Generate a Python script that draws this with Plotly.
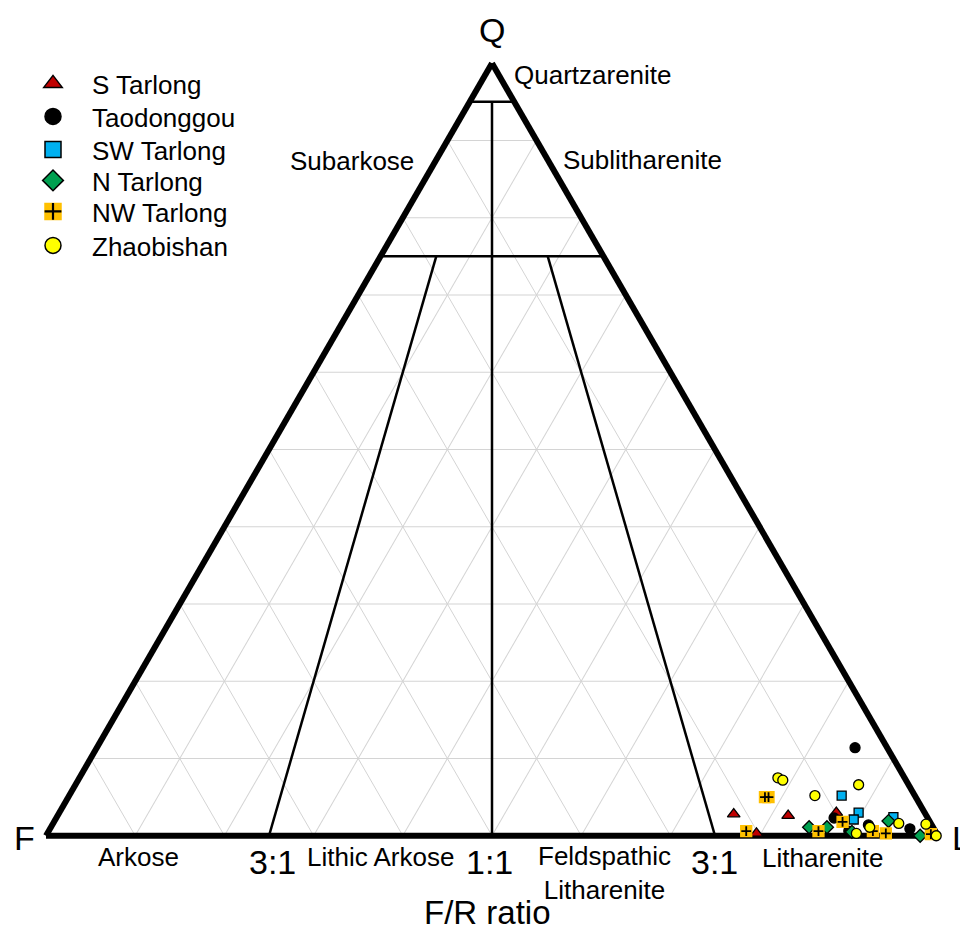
import plotly.graph_objects as go

# Framework composition of sandstones, in percent (Q = quartz, F = feldspar, L = lithics)
groups = ["S Tarlong", "Taodonggou", "SW Tarlong", "N Tarlong", "NW Tarlong", "Zhaobishan"]

s_tarlong_q = [2.8, 2.6, 0.3, 3.0]
s_tarlong_f = [21.5, 15.5, 20.2, 9.9]
s_tarlong_l = [75.7, 81.9, 79.5, 87.1]

taodonggou_q = [11.4, 2.3, 0.6, 1.4, 0.9]
taodonggou_f = [3.6, 10.5, 9.7, 7.1, 2.7]
taodonggou_l = [85.0, 87.2, 89.7, 91.5, 96.4]

sw_tarlong_q = [5.2, 3.0, 2.1, 2.4]
sw_tarlong_f = [8.2, 7.4, 8.4, 3.8]
sw_tarlong_l = [86.6, 89.6, 89.5, 93.8]

n_tarlong_q = [1.1, 1.1, 0.5, 1.9, 0.0]
n_tarlong_f = [13.9, 11.9, 9.4, 4.6, 2.0]
n_tarlong_l = [85.0, 87.0, 90.1, 93.5, 98.0]

nw_tarlong_q = [5.0, 5.0, 0.6, 0.6, 1.8, 0.6, 0.3, 0.2]
nw_tarlong_f = [16.9, 16.5, 21.2, 13.1, 9.8, 7.0, 5.7, 0.7]
nw_tarlong_l = [78.1, 78.5, 78.2, 86.3, 88.4, 92.4, 94.0, 99.1]

zhaobishan_q = [7.5, 7.2, 5.2, 6.6, 0.3, 1.1, 1.6, 1.5, 0.0]
zhaobishan_f = [14.2, 13.8, 11.2, 5.6, 9.0, 7.1, 3.6, 0.6, 0.2]
zhaobishan_l = [78.3, 79.0, 83.6, 87.8, 90.7, 91.8, 94.8, 97.9, 99.8]

# Folk (1974) field boundaries as (Q, F, L) end points
boundaries = [
    [(95, 5, 0), (95, 0, 5)],
    [(75, 25, 0), (75, 0, 25)],
    [(95, 2.5, 2.5), (0, 50, 50)],
    [(75, 18.75, 6.25), (0, 75, 25)],
    [(75, 6.25, 18.75), (0, 25, 75)],
]

styles = {
    "S Tarlong": dict(symbol="triangle-up", color="#C00000", size=11, edge="black"),
    "Taodonggou": dict(symbol="circle", color="#000000", size=10, edge="black"),
    "SW Tarlong": dict(symbol="square", color="#00B0F0", size=9, edge="black"),
    "N Tarlong": dict(symbol="diamond", color="#00A050", size=10, edge="black"),
    "NW Tarlong": dict(symbol="square", color="#FFC000", size=11, edge="#FFC000"),
    "Zhaobishan": dict(symbol="circle", color="#FFFF00", size=10, edge="black"),
}

data = {
    "S Tarlong": (s_tarlong_q, s_tarlong_f, s_tarlong_l),
    "Taodonggou": (taodonggou_q, taodonggou_f, taodonggou_l),
    "SW Tarlong": (sw_tarlong_q, sw_tarlong_f, sw_tarlong_l),
    "N Tarlong": (n_tarlong_q, n_tarlong_f, n_tarlong_l),
    "NW Tarlong": (nw_tarlong_q, nw_tarlong_f, nw_tarlong_l),
    "Zhaobishan": (zhaobishan_q, zhaobishan_f, zhaobishan_l),
}

FONT = "Arial, 'Liberation Sans', sans-serif"

fig = go.Figure()

for seg in boundaries:
    fig.add_trace(go.Scatterternary(
        a=[p[0] for p in seg], b=[p[1] for p in seg], c=[p[2] for p in seg],
        mode="lines", line=dict(color="black", width=2.5),
        showlegend=False, hoverinfo="skip", cliponaxis=False,
    ))

for name in groups:
    st = styles[name]
    q, f, l = data[name]
    fig.add_trace(go.Scatterternary(
        a=q, b=f, c=l, mode="markers", name=name, showlegend=False,
        cliponaxis=False,
        marker=dict(symbol=st["symbol"], color=st["color"], size=st["size"],
                    line=dict(color=st["edge"], width=1.3)),
    ))
    if name == "NW Tarlong":
        # black plus drawn over the orange squares
        fig.add_trace(go.Scatterternary(
            a=q, b=f, c=l, mode="markers", name=name, showlegend=False,
            cliponaxis=False, hoverinfo="skip",
            marker=dict(symbol="cross-thin", size=7, color="black",
                        line=dict(color="black", width=1.8)),
        ))

W0, B0, TW, TH = 46, 836, 892, 773


def paper(x, y):
    return (x - W0) / TW, (B0 - y) / TH


# key: one legend box per entry, centred on these rows
key_rows = [84, 117, 150, 181, 212, 246]
legends = {}
for i, (name, row) in enumerate(zip(groups, key_rows)):
    st = styles[name]
    key = "legend" if i == 0 else f"legend{i + 1}"
    lx, ly = paper(14, row - 24)
    legends[key] = dict(x=lx, y=ly, xanchor="left", yanchor="top",
                        font=dict(family=FONT, size=26, color="black"),
                        bgcolor="rgba(0,0,0,0)", itemwidth=68)
    fig.add_trace(go.Scatterternary(
        a=[None], b=[None], c=[None], mode="markers", name=name, legend=key,
        marker=dict(symbol=st["symbol"], color=st["color"], size=16,
                    line=dict(color=st["edge"], width=1.5)),
    ))
    if name == "NW Tarlong":
        key2 = "legend7"
        legends[key2] = dict(legends[key])
        fig.add_trace(go.Scatterternary(
            a=[None], b=[None], c=[None], mode="markers", name=" ", legend=key2,
            marker=dict(symbol="cross-thin", color="black", size=12,
                        line=dict(color="black", width=2.2)),
        ))

axis = dict(showticklabels=False, ticks="", linecolor="black", linewidth=6,
            gridcolor="#d4d4d4", gridwidth=1, dtick=10, min=0,
            layer="below traces", title=dict(text=""))

labels = [
    ("Q", 492, 30, 34, "center"),
    ("F", 24, 838, 34, "center"),
    ("L", 950, 838, 34, "left"),
    ("Quartzarenite", 512, 75, 26, "left"),
    ("Subarkose", 352, 161, 26, "center"),
    ("Sublitharenite", 642, 160, 26, "center"),
    ("Arkose", 138, 857, 26, "center"),
    ("3:1", 272, 862, 34, "center"),
    ("Lithic Arkose", 380, 857, 26, "center"),
    ("1:1", 489, 862, 34, "center"),
    ("Feldspathic<br>Litharenite", 604, 873, 26, "center"),
    ("3:1", 714, 862, 34, "center"),
    ("Litharenite", 822, 858, 26, "center"),
    ("F/R ratio", 487, 912, 33, "center"),
]

annotations = []
for text, x, y, size, anchor in labels:
    px, py = paper(x, y)
    annotations.append(dict(
        text=text, x=px, y=py, xref="paper", yref="paper",
        xanchor=anchor, yanchor="middle", showarrow=False,
        font=dict(family=FONT, size=size, color="black"),
    ))

fig.update_layout(
    width=960, height=930,
    margin=dict(l=W0, r=960 - W0 - TW, t=B0 - TH, b=930 - B0),
    paper_bgcolor="white",
    font=dict(family=FONT, color="black"),
    ternary=dict(sum=100, bgcolor="white",
                 aaxis=axis, baxis=axis, caxis=axis),
    showlegend=True,
    annotations=annotations,
    **legends,
)

fig.write_html("out.html")
